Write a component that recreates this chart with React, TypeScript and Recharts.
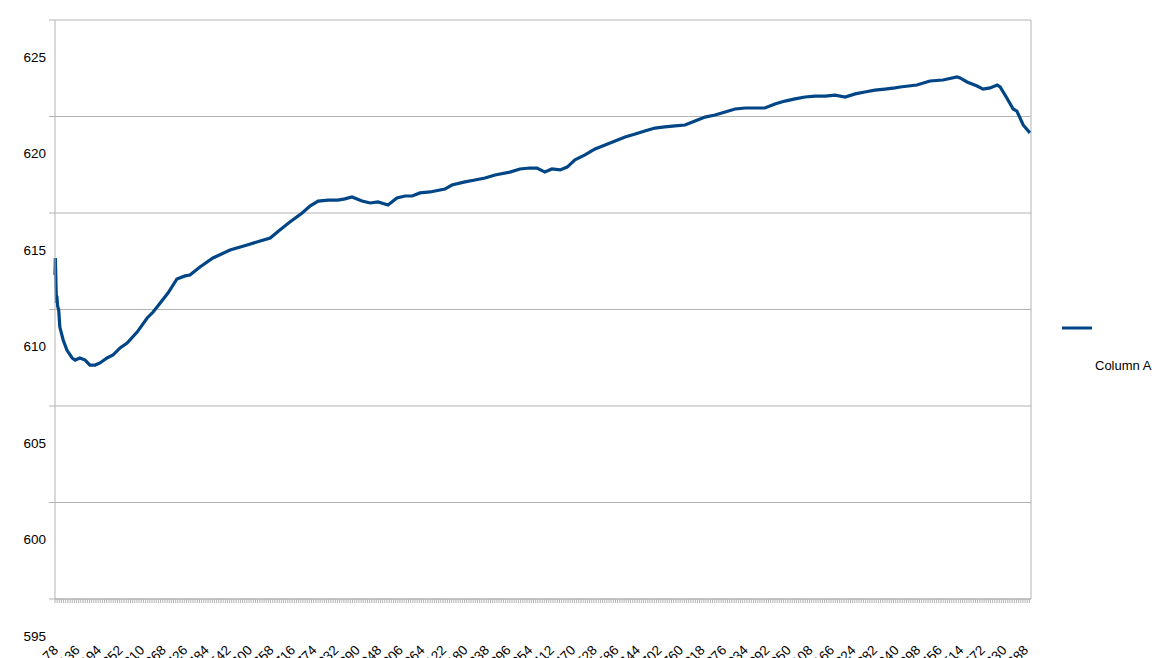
import React from 'react';
import {
  LineChart, Line, XAxis, YAxis, CartesianGrid, Legend, ReferenceLine
} from 'recharts';

// row ids (x) and readings (y)
const X_VALUES = [
  78, 79, 81, 82, 83, 85, 88, 91, 100, 110, 124, 132, 145, 159, 172, 186, 199, 218, 234, 253,
  272, 299, 326, 342, 361, 382, 406, 428, 441, 468, 503, 549, 595, 630, 657, 683, 710, 743, 764, 786,
  813, 839, 858, 877, 904, 926, 947, 974, 998, 1020, 1039, 1060, 1087, 1127, 1146, 1181, 1208, 1235, 1262, 1302,
  1329, 1356, 1375, 1396, 1415, 1437, 1456, 1477, 1504, 1531, 1558, 1585, 1612, 1639, 1665, 1692, 1719, 1746, 1773, 1800,
  1827, 1854, 1881, 1908, 1935, 1961, 1988, 2015, 2042, 2069, 2096, 2123, 2150, 2177, 2204, 2231, 2257, 2284, 2311, 2338,
  2352, 2397, 2432, 2467, 2505, 2513, 2532, 2559, 2575, 2594, 2613, 2621, 2639, 2656, 2666, 2683, 2701,
];

const Y_VALUES = [
  611.79, 612.67, 611.01, 610.34, 610.70, 610.18, 609.97, 609.09, 608.42, 607.90, 607.49, 607.38, 607.49, 607.38, 607.12, 607.12, 607.23, 607.49, 607.64, 608.01,
  608.26, 608.83, 609.56, 609.87, 610.34, 610.85, 611.58, 611.74, 611.79, 612.20, 612.67, 613.08, 613.34, 613.55, 613.70, 614.12, 614.53, 615.00, 615.36, 615.62,
  615.67, 615.67, 615.73, 615.83, 615.62, 615.52, 615.57, 615.41, 615.78, 615.88, 615.88, 616.04, 616.09, 616.24, 616.45, 616.61, 616.71, 616.81, 616.97, 617.12,
  617.28, 617.33, 617.33, 617.12, 617.28, 617.23, 617.38, 617.75, 618.01, 618.32, 618.52, 618.73, 618.94, 619.09, 619.25, 619.40, 619.46, 619.51, 619.56, 619.77,
  619.97, 620.08, 620.23, 620.39, 620.44, 620.44, 620.44, 620.65, 620.80, 620.91, 621.01, 621.06, 621.06, 621.11, 621.01, 621.17, 621.27, 621.37, 621.42, 621.48,
  621.53, 621.63, 621.84, 621.89, 622.05, 622.00, 621.79, 621.58, 621.42, 621.48, 621.63, 621.53, 620.96, 620.39, 620.28, 619.56, 619.15,
];

const X_LABELS = [
  78, 136, 194, 252, 310, 368, 426, 484, 542, 600, 658, 716, 774, 832, 890, 948,
  1006, 1064, 1122, 1180, 1238, 1296, 1354, 1412, 1470, 1528, 1586, 1644, 1702, 1760, 1818, 1876,
  1934, 1992, 2050, 2108, 2166, 2224, 2282, 2340, 2398, 2456, 2514, 2572, 2630, 2688,
];

const Y_TICKS = [595, 600, 605, 610, 615, 620, 625];
const X_MAX = 2704;

const data = X_VALUES.map((x, i) => ({ x, y: Y_VALUES[i] }));

// every category gets a small tick under the axis, labels only every 10th
const combTicks: number[] = [];
X_LABELS.forEach((v) => {
  for (let j = 0; j < 10; j++) {
    const t = v + j * 5.8;
    if (t <= X_MAX) combTicks.push(t);
  }
});

const GRID = '#b3b3b3';
const LINE = '#004586';
const FONT = '"Liberation Sans", Arial, sans-serif';
const LABEL_DROP = 37; // labels sit below their tick, as in the original

const YTick = ({ x, y, payload }: any) => (
  <text x={x} y={y + LABEL_DROP} dy="0.355em" textAnchor="end" fontSize={13.5} fill="#000" fontFamily={FONT}>
    {payload.value}
  </text>
);

const XTick = ({ x, y, index, payload }: any) => {
  if (index % 10 !== 0) return null;
  const tx = x + 4;
  const ty = y + LABEL_DROP + 9;
  return (
    <text x={tx} y={ty} textAnchor="end" fontSize={13.5} fill="#000" fontFamily={FONT}
      transform={`rotate(-45, ${tx}, ${ty})`}>
      {Math.round(payload.value)}
    </text>
  );
};

const LegendBox = () => (
  <div style={{ position: 'relative', width: 100, height: 60, fontFamily: FONT }}>
    <svg width={40} height={10} style={{ position: 'absolute', left: 0, top: 0 }}>
      <line x1={2} y1={5} x2={32} y2={5} stroke={LINE} strokeWidth={3} />
    </svg>
    <div style={{ position: 'absolute', left: 35, top: 35, fontSize: 13, color: '#000', whiteSpace: 'nowrap' }}>
      Column A
    </div>
  </div>
);

export default function App() {
  return (
    <div style={{ position: 'absolute', left: 0, top: 0, background: '#fff' }}>
      <LineChart width={1165} height={658} data={data}
        margin={{ top: 20, right: 134, bottom: 0, left: 0 }}>
        <CartesianGrid horizontal vertical={false} stroke={GRID} strokeDasharray="" />
        <XAxis
          type="number"
          dataKey="x"
          domain={[78, X_MAX]}
          ticks={combTicks}
          interval={0}
          height={59}
          axisLine={{ stroke: GRID }}
          tickLine={{ stroke: GRID }}
          tickSize={4}
          tick={<XTick />}
        />
        <YAxis
          type="number"
          domain={[595, 625]}
          ticks={Y_TICKS}
          interval={0}
          width={55}
          axisLine={{ stroke: GRID }}
          tickLine={{ stroke: GRID }}
          tickSize={6}
          tickMargin={3}
          tick={<YTick />}
        />
        <ReferenceLine x={X_MAX} stroke={GRID} />
        <Legend
          layout="vertical"
          align="center"
          verticalAlign="middle"
          content={<LegendBox />}
          wrapperStyle={{ left: 1060, top: 323, width: 100 }}
        />
        <Line
          type="linear"
          dataKey="y"
          name="Column A"
          stroke={LINE}
          strokeWidth={3.2}
          dot={false}
          isAnimationActive={false}
        />
      </LineChart>
    </div>
  );
}
